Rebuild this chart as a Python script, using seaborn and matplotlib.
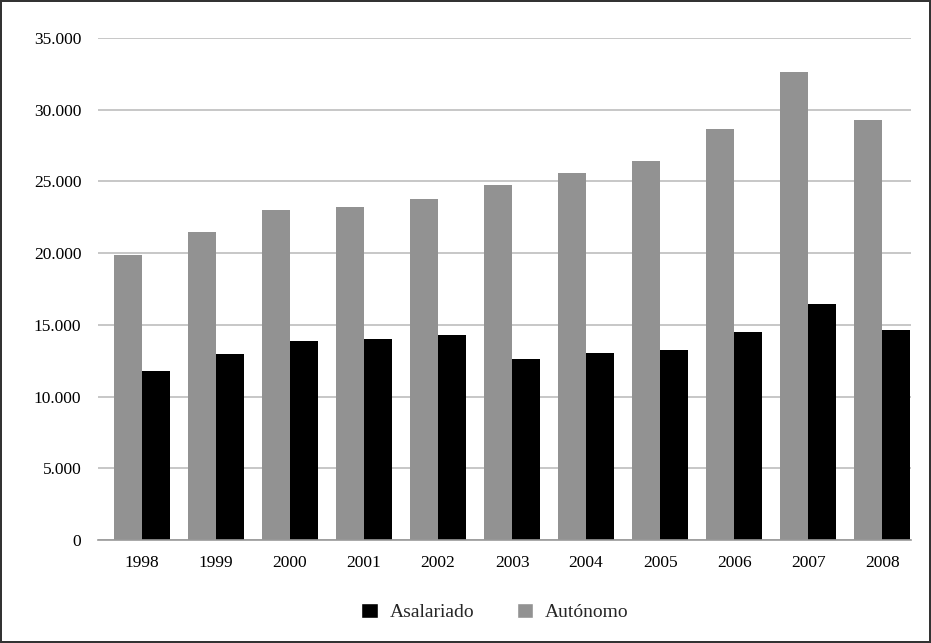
import pandas as pd
import numpy as np
import seaborn as sns
from matplotlib import pyplot as plt
from matplotlib.patches import Patch
from matplotlib.ticker import FuncFormatter, MultipleLocator

years = ['1998', '1999', '2000', '2001', '2002', '2003', '2004', '2005', '2006', '2007', '2008']
autonomo = [19900, 21500, 23000, 23200, 23800, 24750, 25600, 26450, 28650, 32650, 29300]
asalariado = [11800, 12950, 13880, 14020, 14300, 12620, 13040, 13250, 14500, 16460, 14650]

df = pd.DataFrame({
    'year': years * 2,
    'value': autonomo + asalariado,
    'serie': ['Autónomo'] * len(years) + ['Asalariado'] * len(years),
})

sns.set_style('white')
plt.rcParams['font.family'] = ['Liberation Serif', 'DejaVu Serif']

fig = plt.figure(figsize=(9.31, 6.43), dpi=100)
fig.patch.set_edgecolor('#333333')
fig.patch.set_linewidth(1.5)
ax = fig.add_axes([98 / 931, 1 - 540 / 643, 813 / 931, 502 / 643])

colors = {'Autónomo': '#929292', 'Asalariado': '#000000'}
sns.barplot(data=df, x='year', y='value', hue='serie', hue_order=['Autónomo', 'Asalariado'],
            palette=colors, width=0.76, gap=0, saturation=1, linewidth=0, ax=ax, legend=False)

ax.set_ylim(0, 35000)
# bars sit slightly right of the tick labels in the original
ax.set_xlim(-0.595, len(years) - 1 + 0.39)
ax.yaxis.set_major_locator(MultipleLocator(5000))
ax.yaxis.set_major_formatter(FuncFormatter(lambda v, p: '0' if v == 0 else f'{int(v):,}'.replace(',', '.')))
ax.yaxis.grid(True, color='#bdbdbd', linewidth=1.2)
ax.set_axisbelow(True)
for s in ['top', 'right', 'left']:
    ax.spines[s].set_visible(False)
ax.spines['bottom'].set_color('#999999')
ax.spines['bottom'].set_linewidth(1.2)
ax.tick_params(axis='both', length=0, labelsize=12.5, colors='black')
ax.tick_params(axis='y', pad=12)
ax.tick_params(axis='x', pad=11)
ax.set_xlabel('')
ax.set_ylabel('')

handles = [Patch(facecolor='#000000', label='Asalariado'),
           Patch(facecolor='#929292', label='Autónomo')]
fig.legend(handles=handles, loc='center', bbox_to_anchor=(495 / 931, 1 - 612 / 643), ncol=2,
           frameon=False, fontsize=14, handlelength=0.85, handleheight=0.85,
           columnspacing=2.2, handletextpad=0.6)

fig.savefig('out.png', dpi=100)
